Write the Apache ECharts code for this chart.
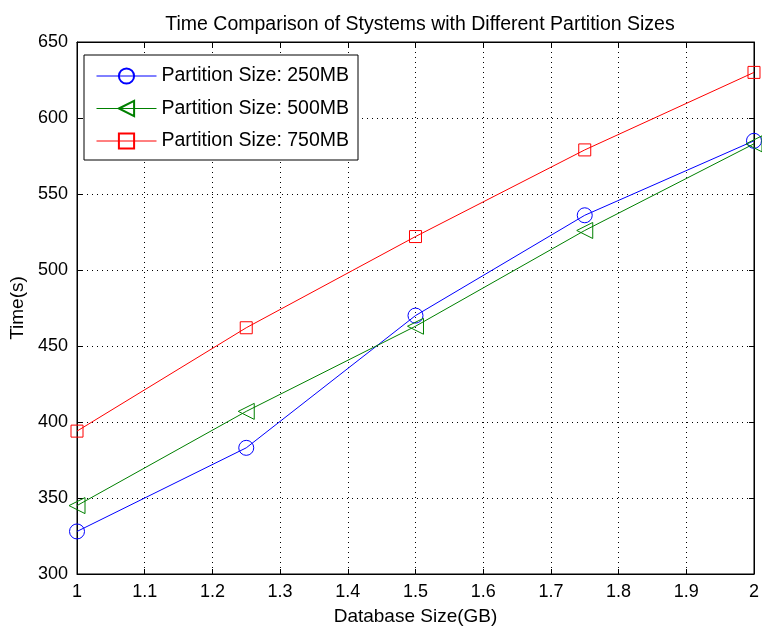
<!DOCTYPE html>
<html><head><meta charset="utf-8">
<script src="https://cdn.jsdelivr.net/npm/echarts@6/dist/echarts.min.js"></script>
<style>html,body{margin:0;padding:0;background:#fff}#c{width:762px;height:631px}</style>
</head><body><div id="c"></div>
<script>
var xValues = [1, 1.25, 1.5, 1.75, 2];
var seriesNames = ['Partition Size: 250MB', 'Partition Size: 500MB', 'Partition Size: 750MB'];
var time250 = [328, 383, 470, 536, 585];
var time500 = [345, 407, 463, 526, 583];
var time750 = [394, 462, 522, 579, 630];
var colors = ['#0000ff', '#008000', '#ff0000'];
var font = 'Liberation Sans, Arial, sans-serif';

function pairs(v){ return xValues.map(function(x,i){ return [x, v[i]]; }); }
function mk(name, data, color, symbol, size, rot){
  return {
    name: name, type: 'line', data: pairs(data), symbol: symbol, symbolSize: size,
    symbolRotate: rot || 0, showAllSymbol: true,
    lineStyle: {color: color, width: 1},
    itemStyle: {color: 'rgba(0,0,0,0)', borderColor: color, borderWidth: 1},
    emphasis: {disabled: true}, animation: false, z: 5
  };
}
var chart = echarts.init(document.getElementById('c'), null, {renderer: 'canvas'});
var gridLine = {show: true, lineStyle: {color: '#000', type: [1, 4], width: 1}};
chart.setOption({
  animation: false,
  backgroundColor: '#fff',
  title: {text: 'Time Comparison of Stystems with Different Partition Sizes', left: 415, textAlign: 'center', top: 10,
    textStyle: {fontFamily: font, fontSize: 19.5, fontWeight: 'normal', color: '#000'}},
  grid: {left: 77, right: 8, top: 42, bottom: 57, show: true, borderColor: '#000', borderWidth: 1, backgroundColor: '#fff'},
  legend: {
    orient: 'vertical', left: 84, top: 55, padding: [11, 9, 9, 12], itemGap: 12.5,
    itemWidth: 60, itemHeight: 19, backgroundColor: '#fff', borderColor: '#000', borderWidth: 1,
    lineStyle: {width: 1},
    textStyle: {fontFamily: font, fontSize: 19.5, color: '#000'},
    data: seriesNames
  },
  xAxis: [{
    type: 'value', min: 1, max: 2, interval: 0.1, position: 'bottom',
    name: 'Database Size(GB)', nameLocation: 'middle', nameGap: 33,
    nameTextStyle: {fontFamily: font, fontSize: 19, color: '#000'},
    axisLine: {show: true, lineStyle: {color: '#000'}},
    axisTick: {show: true, inside: true, length: 5, lineStyle: {color: '#000'}},
    axisLabel: {fontFamily: font, fontSize: 18, color: '#000', margin: 9},
    splitLine: gridLine
  }, {
    type: 'value', min: 1, max: 2, interval: 0.1, position: 'top',
    axisLine: {show: true, lineStyle: {color: '#000'}},
    axisTick: {show: true, inside: true, length: 5, lineStyle: {color: '#000'}},
    axisLabel: {show: false}, splitLine: {show: false}
  }],
  yAxis: [{
    type: 'value', min: 300, max: 650, interval: 50, position: 'left',
    name: 'Time(s)', nameLocation: 'middle', nameGap: 49,
    nameTextStyle: {fontFamily: font, fontSize: 19, color: '#000'},
    axisLine: {show: true, lineStyle: {color: '#000'}},
    axisTick: {show: true, inside: true, length: 5, lineStyle: {color: '#000'}},
    axisLabel: {fontFamily: font, fontSize: 18, color: '#000', margin: 9},
    splitLine: gridLine
  }, {
    type: 'value', min: 300, max: 650, interval: 50, position: 'right',
    axisLine: {show: true, lineStyle: {color: '#000'}},
    axisTick: {show: true, inside: true, length: 5, lineStyle: {color: '#000'}},
    axisLabel: {show: false}, splitLine: {show: false}
  }],
  series: [
    mk(seriesNames[0], time250, colors[0], 'circle', 15, 0),
    mk(seriesNames[1], time500, colors[1], 'triangle', 16, 90),
    mk(seriesNames[2], time750, colors[2], 'rect', 12, 0)
  ]
});
</script></body></html>
